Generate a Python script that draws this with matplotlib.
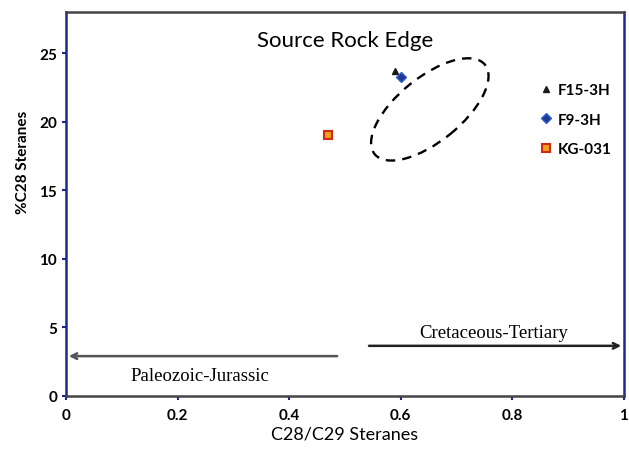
import matplotlib
matplotlib.use('Agg')
import matplotlib.pyplot as plt
import matplotlib.transforms as mtransforms
from matplotlib.patches import Ellipse

# data
names = ['F15-3H', 'F9-3H', 'KG-031']
ratio = [0.59, 0.60, 0.47]        # C28/C29 steranes
pct_c28 = [23.7, 23.3, 19.0]      # %C28 steranes
xticks = [0, 0.2, 0.4, 0.6, 0.8, 1]
xticklabels = ['0', '0.2', '0.4', '0.6', '0.8', '1']
yticks = [0, 5, 10, 15, 20, 25]

plt.rcParams['font.family'] = 'Lato'

fig = plt.figure(figsize=(6.29, 4.52), dpi=100)
ax = fig.add_axes([0.105, 0.122, 0.887, 0.849])

ax.plot(ratio[0], pct_c28[0], ls='none', marker='^', ms=5, color='#1a1a1a', label=names[0])
ax.plot(ratio[1], pct_c28[1], ls='none', marker='D', ms=5, mfc='#1f3a93', mec='#3060d0', label=names[1])
ax.plot(ratio[2], pct_c28[2], ls='none', marker='s', ms=6, mfc='#f0a020', mec='#d02a10', mew=1.5, label=names[2])

# source rock edge envelope, sized in inches so it keeps its shape
trans = fig.dpi_scale_trans + mtransforms.ScaledTranslation(0.652, 20.9, ax.transData)
ax.add_patch(Ellipse((0, 0), 1.42, 0.64, angle=39, transform=trans, fill=False,
                     ls=(0, (4, 3)), lw=1.7, color='black'))
ax.text(0.5, 26.0, 'Source Rock Edge', ha='center', va='center', fontsize=16)

# age arrows
ax.annotate('', xy=(0.0, 2.9), xytext=(0.491, 2.9),
            arrowprops=dict(arrowstyle='->', color='#555555', lw=1.8))
ax.annotate('', xy=(1.0, 3.65), xytext=(0.538, 3.65),
            arrowprops=dict(arrowstyle='->', color='#222222', lw=1.8))
ax.text(0.24, 1.5, 'Paleozoic-Jurassic', ha='center', va='center', fontsize=13.5, family='Liberation Serif')
ax.text(0.767, 4.6, 'Cretaceous-Tertiary', ha='center', va='center', fontsize=13.5, family='Liberation Serif')

ax.set_xlim(0, 1)
ax.set_ylim(0, 28)
ax.set_xticks(xticks)
ax.set_xticklabels(xticklabels)
ax.set_yticks(yticks)
for lab in ax.get_xticklabels() + ax.get_yticklabels():
    lab.set_fontweight('bold')
ax.tick_params(axis='both', labelsize=11, length=3, width=1.5, color='#1a2a80')
ax.tick_params(axis='x', pad=6)
ax.set_xlabel('C28/C29 Steranes', fontsize=13, labelpad=2)
ax.set_ylabel('%C28 Steranes', fontsize=11, fontweight='bold')
ax.yaxis.set_label_coords(-0.064, 0.61)

ax.spines['left'].set_color('#1a2a90')
ax.spines['right'].set_color('#1a2a90')
ax.spines['top'].set_color('#444444')
ax.spines['bottom'].set_color('#444444')
for s in ax.spines.values():
    s.set_linewidth(1.8)

leg = ax.legend(loc='upper right', bbox_to_anchor=(1.003, 0.85), frameon=False,
                handletextpad=0.4, handlelength=0.8, labelspacing=1.0,
                prop={'weight': 'bold', 'size': 11})

fig.savefig('out.png', dpi=100)
